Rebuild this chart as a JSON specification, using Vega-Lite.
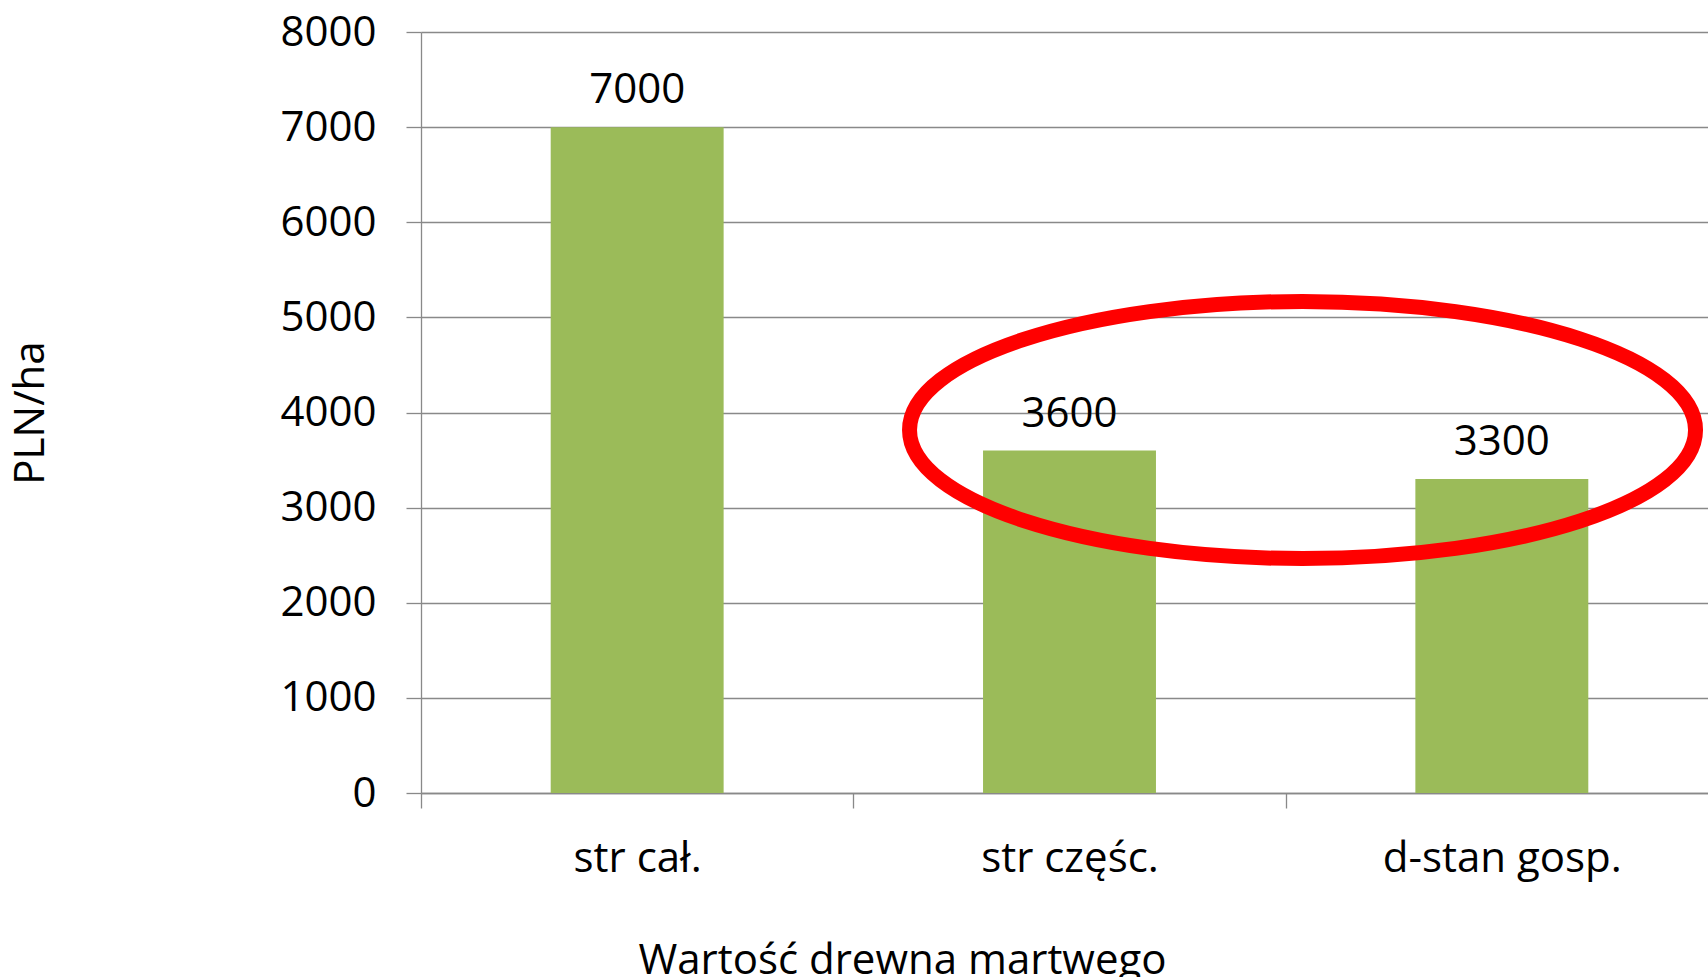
{
  "$schema": "https://vega.github.io/schema/vega-lite/v6.json",
  "autosize": "none",
  "padding": {"left": 421, "top": 32, "right": -10, "bottom": 184},
  "width": 1297,
  "height": 761,
  "background": "white",
  "config": {
    "view": {"stroke": null},
    "font": "Open Sans",
    "axis": {
      "labelFont": "Open Sans",
      "titleFont": "Open Sans",
      "labelFontSize": 42,
      "titleFontSize": 42,
      "labelColor": "#000000",
      "titleColor": "#000000",
      "titleFontWeight": "normal",
      "domainColor": "#898989",
      "tickColor": "#898989",
      "gridColor": "#898989",
      "domainWidth": 1.3,
      "tickWidth": 1.3,
      "gridWidth": 1.3,
      "tickSize": 15,
      "labelLimit": 0
    }
  },
  "datasets": {
    "bars": [
      {"kategoria": "str cał.", "wartosc": 7000},
      {"kategoria": "str częśc.", "wartosc": 3600},
      {"kategoria": "d-stan gosp.", "wartosc": 3300}
    ],
    "ellipse": [
      {"pos": 2.039, "wartosc": 3816}
    ]
  },
  "layer": [
    {
      "data": {"name": "bars"},
      "encoding": {
        "x": {
          "field": "kategoria",
          "type": "nominal",
          "sort": null,
          "scale": {"paddingInner": 0, "paddingOuter": 0},
          "axis": {
            "title": "Wartość drewna martwego",
            "labelAngle": 0,
            "tickBand": "extent",
            "labelPadding": 30,
            "titlePadding": 61,
            "titleX": 481,
            "grid": false
          }
        },
        "y": {
          "field": "wartosc",
          "type": "quantitative",
          "scale": {"domain": [0, 8000], "nice": false},
          "axis": {
            "title": "PLN/ha",
            "values": [0, 1000, 2000, 3000, 4000, 5000, 6000, 7000, 8000],
            "format": "d",
            "labelPadding": 30,
            "titlePadding": 227,
            "grid": true
          }
        }
      },
      "layer": [
        {"mark": {"type": "bar", "color": "#9BBB59", "width": {"band": 0.4}}},
        {
          "mark": {"type": "text", "baseline": "alphabetic", "dy": -24, "fontSize": 42, "font": "Open Sans", "color": "#000000"},
          "encoding": {"text": {"field": "wartosc", "type": "quantitative", "format": "d"}}
        }
      ]
    },
    {
      "data": {"name": "ellipse"},
      "mark": {
        "type": "point",
        "filled": false,
        "stroke": "#FF0000",
        "strokeWidth": 15,
        "opacity": 1,
        "size": 617796,
        "shape": "M -1 0 C -1 -0.1806 -0.5523 -0.327 0 -0.327 C 0.5523 -0.327 1 -0.1806 1 0 C 1 0.1806 0.5523 0.327 0 0.327 C -0.5523 0.327 -1 0.1806 -1 0 Z"
      },
      "encoding": {
        "x": {"field": "pos", "type": "quantitative", "scale": {"domain": [0, 3], "nice": false, "zero": false}, "axis": null},
        "y": {"field": "wartosc", "type": "quantitative"}
      }
    }
  ],
  "resolve": {"scale": {"x": "independent"}}
}
